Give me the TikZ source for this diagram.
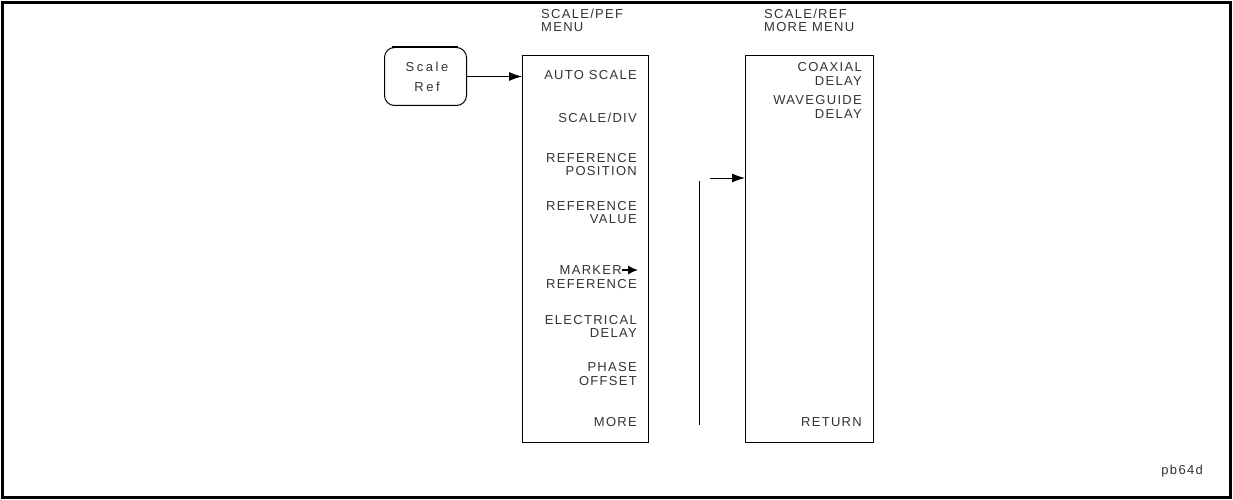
\documentclass[tikz,border=0pt]{standalone}
\usepackage{fontspec}
\usetikzlibrary{arrows.meta}
\newfontfamily\plotfont[LetterSpace=10]{Liberation Sans}
\newfontfamily\keyfont[LetterSpace=20]{Liberation Sans}
\begin{document}
\begin{tikzpicture}[x=1pt,y=-1pt,
  txt/.style={font=\plotfont\fontsize{13}{14}\selectfont, text=black!80, inner sep=0pt, text height=9.3pt, text depth=0pt},
  item/.style={txt, anchor=east},
  ttl/.style={txt, anchor=west},
  menubox/.style={draw, line width=1.4pt, anchor=north west, inner sep=0pt, minimum width=126pt, minimum height=387pt},
  conn/.style={line width=0.9pt, -{Latex[length=13pt,width=9pt]}},
  plain/.style={line width=1pt}]
\useasboundingbox (0,0) rectangle (1233,500);
\draw[line width=3pt] (2.5,2.5) rectangle (1230.5,497.5);
% hardkey
\node[draw, line width=1pt, rounded corners=10pt, anchor=north west, inner sep=0pt,
      minimum width=82pt, minimum height=58pt] (key) at (384,47) {};
\draw[line width=2.2pt] (392,47) -- (458,47);
\node[txt, font=\keyfont\fontsize{13}{14}\selectfont] (k1) at (427,67) {Scale};
\node[txt, font=\keyfont\fontsize{13}{14}\selectfont] (k2) at (427,87) {Ref};
% menu 1
\node[menubox] (m1) at (522,55) {};
\node[ttl] (t1a) at (541,14) {SCALE/PEF};
\node[ttl] (t1b) at (541,27) {MENU};
\node[item] (a1) at (637,75) {AUTO SCALE};
\node[item] (a2) at (637,118) {SCALE/DIV};
\node[item] (a3) at (637,158) {REFERENCE};
\node[item] (a3b) at (637,171) {POSITION};
\node[item] (a4) at (637,206) {REFERENCE};
\node[item] (a4b) at (637,219) {VALUE};
\node[item] (a5) at (622,270) {MARKER};
\coordinate (a5arrow) at (638,270);
\node[item] (a5b) at (637,284) {REFERENCE};
\node[item] (a6) at (637,320) {ELECTRICAL};
\node[item] (a6b) at (637,333) {DELAY};
\node[item] (a7) at (637,367) {PHASE};
\node[item] (a7b) at (637,381) {OFFSET};
\node[item] (a8) at (637,422) {MORE};
\draw[line width=1.5pt, -{Latex[length=10pt,width=9pt]}] (a5.east) -- (a5arrow);
% menu 2
\node[menubox, minimum width=128pt] (m2) at (745,55) {};
\node[ttl] (t2a) at (764,14) {SCALE/REF};
\node[ttl] (t2b) at (764,27) {MORE MENU};
\node[item] (b1) at (862,67) {COAXIAL};
\node[item] (b1b) at (862,81) {DELAY};
\node[item] (b2) at (862,100) {WAVEGUIDE};
\node[item] (b2b) at (862,114) {DELAY};
\node[item] (b3) at (862,422) {RETURN};
% connectors
\draw[conn] (key.east) -- (key.east -| m1.west);
\coordinate (vtop) at (699,181);
\coordinate (vbot) at (699,425);
\draw[plain] (vtop) -- (vbot);
\coordinate (astart) at (710,178);
\draw[conn] (astart) -- (astart -| m2.west);
\node[txt, anchor=east] (id) at (1203,470) {pb64d};
\end{tikzpicture}
\end{document}
